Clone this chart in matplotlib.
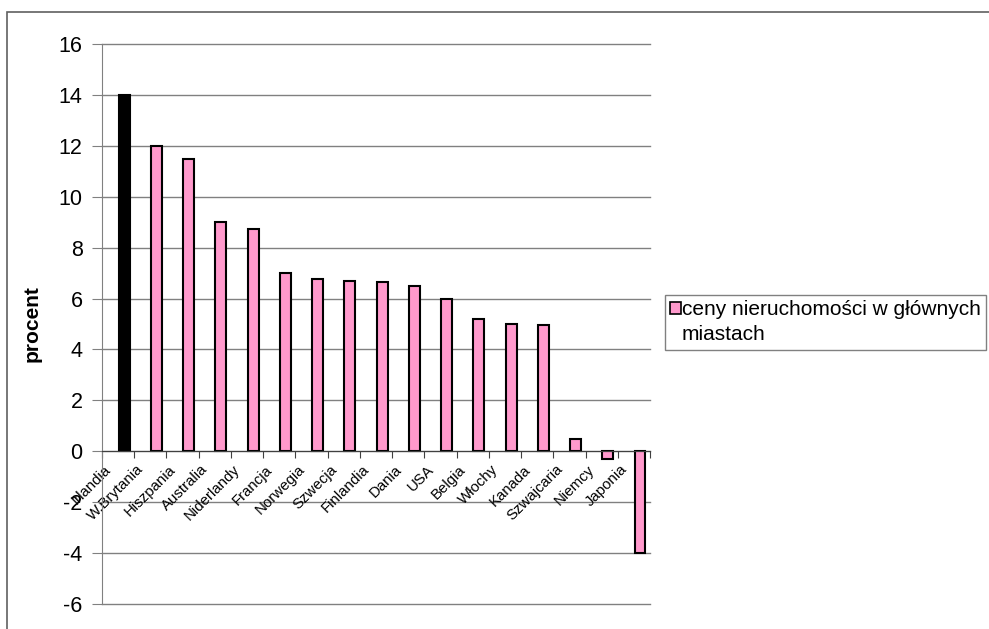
import matplotlib.pyplot as plt
import numpy as np
from matplotlib.patches import Patch

# data
countries = ["Irlandia", "W.Brytania", "Hiszpania", "Australia", "Niderlandy",
             "Francja", "Norwegia", "Szwecja", "Finlandia", "Dania", "USA",
             "Belgia", "Włochy", "Kanada", "Szwajcaria", "Niemcy", "Japonia"]
values = [14.0, 12.0, 11.5, 9.0, 8.75, 7.0, 6.75, 6.7, 6.65, 6.5, 6.0,
          5.2, 5.0, 4.95, 0.5, -0.3, -4.0]
series_lines = ["ceny nieruchomości w głównych", "miastach"]
yticks = list(range(-6, 17, 2))

plt.rcParams['font.family'] = ['Liberation Sans', 'DejaVu Sans']
plt.rcParams['axes.unicode_minus'] = False

fig = plt.figure(figsize=(9.89, 6.29), dpi=100)
ax = fig.add_axes([102 / 989, 1 - 604 / 629, 548 / 989, 560 / 629])

# outer chart-area frame
fig.patches.append(plt.Rectangle((7 / 989, -0.05), 1.05, 1 - 12 / 629 + 0.05,
                                 transform=fig.transFigure, fill=False,
                                 edgecolor='#606060', linewidth=1.2))

x = np.arange(len(countries))
colors = ['black'] + ['#FF99CC'] * (len(countries) - 1)
ax.bar(x + 0.19, values, width=0.34, color=colors, edgecolor='black',
       linewidth=1.5, zorder=3)

ax.set_xlim(-0.5, len(countries) - 0.5)
ax.set_ylim(-6, 16)
ax.set_yticks(yticks)
ax.tick_params(axis='y', labelsize=15.5, length=7, color='#808080', pad=7)
for yv in yticks:
    ax.axhline(yv, color='#808080', linewidth=1, zorder=0, clip_on=False)

# category axis sits on the zero line
ax.spines['bottom'].set_position(('data', 0))
ax.spines['bottom'].set_color('#404040')
ax.spines['bottom'].set_zorder(4)
ax.spines['left'].set_color('#808080')
ax.spines['top'].set_visible(False)
ax.spines['right'].set_visible(False)
ax.set_xticks(np.arange(len(countries) + 1) - 0.5)
ax.set_xticklabels([])
ax.tick_params(axis='x', which='major', length=5, color='#404040')
ax.set_xticks(x - 0.13, minor=True)
ax.set_xticklabels(countries, minor=True, rotation=45, ha='right',
                   fontsize=10.8)
ax.tick_params(axis='x', which='minor', length=0, pad=8)

ax.set_ylabel("procent", fontsize=15, fontweight='bold')
ax.yaxis.set_label_coords((42 - 102) / 548, 0.5)

# legend: marker sits on the first line, wrapped text on a second row
handle = Patch(facecolor='#FF99CC', edgecolor='black', linewidth=1.2)
blank = Patch(facecolor='none', edgecolor='none')
leg = fig.legend([handle, blank], series_lines, loc='upper left',
                 bbox_to_anchor=(665 / 989, 1 - 295 / 629), fontsize=15,
                 frameon=True, fancybox=False, handlelength=0.5,
                 handleheight=0.5, handletextpad=0.05, borderpad=0.25,
                 borderaxespad=0, labelspacing=0.3)
leg.get_frame().set_edgecolor('#606060')
leg.get_frame().set_linewidth(1)

fig.savefig("out.png", dpi=100)
